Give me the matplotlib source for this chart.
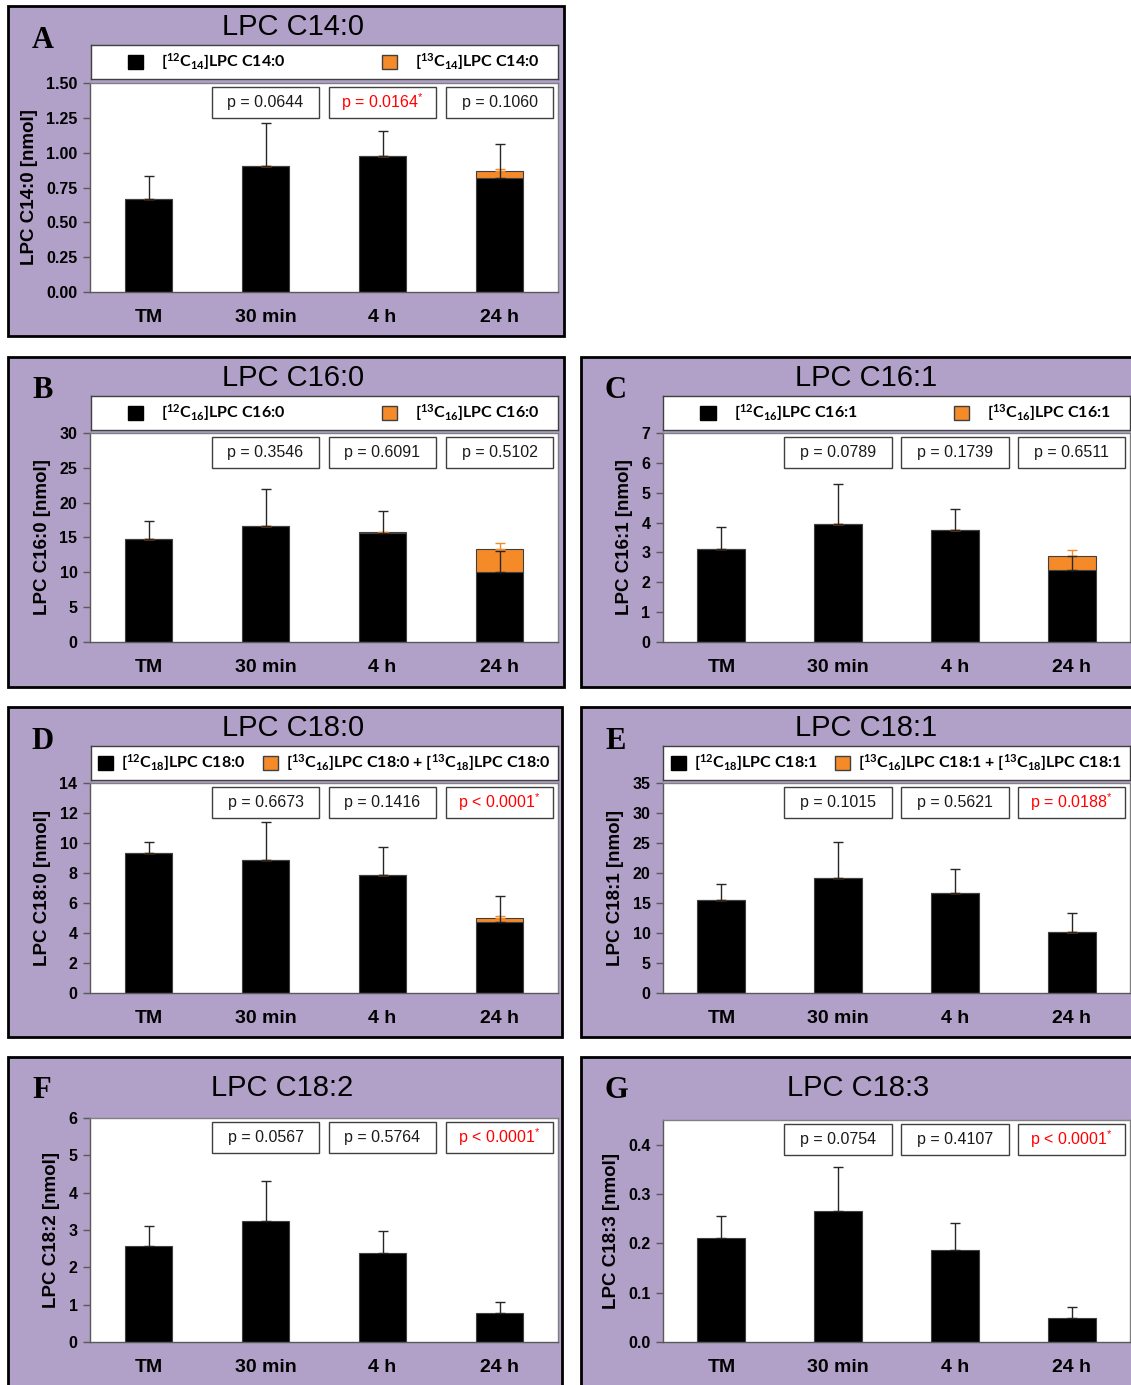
import matplotlib
matplotlib.use("Agg")
import matplotlib.pyplot as plt
from matplotlib.patches import Rectangle, Patch
from matplotlib.ticker import MultipleLocator, FormatStrFormatter
import matplotlib.transforms as mtransforms
import numpy as np

plt.rcParams['font.family'] = ['Liberation Sans', 'DejaVu Sans']
plt.rcParams['mathtext.default'] = 'regular'

# ------------------------------
# DATA (nmol, mean + SD)
# ------------------------------
TIMEPOINTS = ['TM', '30 min', '4 h', '24 h']

c14_0_12c = [0.667, 0.905, 0.975, 0.82]
c14_0_12c_sd = [0.166, 0.308, 0.181, 0.24]
c14_0_13c = [0.0, 0.0, 0.0, 0.05]
c14_0_13c_sd = [np.nan, 0.0, 0.0, 0.015]
c14_0_p = ['= 0.0644', '= 0.0164', '= 0.1060']
c14_0_sig = [False, True, False]

c16_0_12c = [14.8, 16.7, 15.7, 10.0]
c16_0_12c_sd = [2.6, 5.2, 3.1, 3.0]
c16_0_13c = [0.0, 0.0, 0.1, 3.4]
c16_0_13c_sd = [0.0, 0.0, 0.0, 0.8]
c16_0_p = ['= 0.3546', '= 0.6091', '= 0.5102']
c16_0_sig = [False, False, False]

c16_1_12c = [3.1, 3.95, 3.75, 2.42]
c16_1_12c_sd = [0.75, 1.35, 0.7, 0.45]
c16_1_13c = [0.0, 0.0, 0.0, 0.45]
c16_1_13c_sd = [np.nan, 0.0, 0.0, 0.2]
c16_1_p = ['= 0.0789', '= 0.1739', '= 0.6511']
c16_1_sig = [False, False, False]

c18_0_12c = [9.35, 8.9, 7.85, 4.72]
c18_0_12c_sd = [0.7, 2.5, 1.9, 1.75]
c18_0_13c = [0.0, 0.0, 0.0, 0.28]
c18_0_13c_sd = [np.nan, np.nan, 0.0, 0.12]
c18_0_p = ['= 0.6673', '= 0.1416', '< 0.0001']
c18_0_sig = [False, False, True]

c18_1_12c = [15.5, 19.1, 16.7, 10.2]
c18_1_12c_sd = [2.6, 6.1, 3.9, 3.1]
c18_1_13c = [0.0, 0.0, 0.0, 0.05]
c18_1_13c_sd = [np.nan, np.nan, np.nan, 0.0]
c18_1_p = ['= 0.1015', '= 0.5621', '= 0.0188']
c18_1_sig = [False, False, True]

c18_2_12c = [2.57, 3.25, 2.38, 0.77]
c18_2_12c_sd = [0.53, 1.05, 0.6, 0.3]
c18_2_p = ['= 0.0567', '= 0.5764', '< 0.0001']
c18_2_sig = [False, False, True]

c18_3_12c = [0.21, 0.265, 0.186, 0.048]
c18_3_12c_sd = [0.046, 0.09, 0.056, 0.022]
c18_3_p = ['= 0.0754', '= 0.4107', '< 0.0001']
c18_3_sig = [False, False, True]

# ------------------------------
# STYLE / LAYOUT (pixels)
# ------------------------------
W, H = 1131, 1385
PANEL_BG = '#b1a0c7'
ORANGE = '#f58a28'
EDGE = '#404040'


def iso(mass, n):
    return '[$^{%d}$C$_{%d}$]' % (mass, n)


panels = [
    dict(letter='A', title='LPC C14:0', ylabel='LPC C14:0 [nmol]',
         c12=c14_0_12c, c12_sd=c14_0_12c_sd, c13=c14_0_13c, c13_sd=c14_0_13c_sd,
         p=c14_0_p, sig=c14_0_sig, ylim=1.5, step=0.25, fmt='%.2f',
         labels=[iso(12, 14) + 'LPC C14:0', iso(13, 14) + 'LPC C14:0'], wide=True,
         frame=(8, 6, 564, 336), legend=(91, 45, 558, 79), plot=(90, 83, 558, 292),
         title_xy=(293, 27), letter_xy=(43, 41)),
    dict(letter='B', title='LPC C16:0', ylabel='LPC C16:0 [nmol]',
         c12=c16_0_12c, c12_sd=c16_0_12c_sd, c13=c16_0_13c, c13_sd=c16_0_13c_sd,
         p=c16_0_p, sig=c16_0_sig, ylim=30, step=5, fmt='%d',
         labels=[iso(12, 16) + 'LPC C16:0', iso(13, 16) + 'LPC C16:0'], wide=True,
         frame=(8, 357, 564, 687), legend=(91, 396, 558, 430), plot=(90, 433, 558, 642),
         title_xy=(293, 378), letter_xy=(43, 391)),
    dict(letter='C', title='LPC C16:1', ylabel='LPC C16:1 [nmol]',
         c12=c16_1_12c, c12_sd=c16_1_12c_sd, c13=c16_1_13c, c13_sd=c16_1_13c_sd,
         p=c16_1_p, sig=c16_1_sig, ylim=7, step=1, fmt='%d',
         labels=[iso(12, 16) + 'LPC C16:1', iso(13, 16) + 'LPC C16:1'], wide=True,
         frame=(581, 357, 1145, 687), legend=(663, 396, 1130, 430), plot=(663, 433, 1130, 642),
         title_xy=(866, 378), letter_xy=(616, 391)),
    dict(letter='D', title='LPC C18:0', ylabel='LPC C18:0 [nmol]',
         c12=c18_0_12c, c12_sd=c18_0_12c_sd, c13=c18_0_13c, c13_sd=c18_0_13c_sd,
         p=c18_0_p, sig=c18_0_sig, ylim=14, step=2, fmt='%d',
         labels=[iso(12, 18) + 'LPC C18:0',
                 iso(13, 16) + 'LPC C18:0 + ' + iso(13, 18) + 'LPC C18:0'], wide=False,
         frame=(8, 707, 562, 1037), legend=(91, 746, 558, 780), plot=(90, 783, 558, 993),
         title_xy=(293, 728), letter_xy=(43, 742)),
    dict(letter='E', title='LPC C18:1', ylabel='LPC C18:1 [nmol]',
         c12=c18_1_12c, c12_sd=c18_1_12c_sd, c13=c18_1_13c, c13_sd=c18_1_13c_sd,
         p=c18_1_p, sig=c18_1_sig, ylim=35, step=5, fmt='%d',
         labels=[iso(12, 18) + 'LPC C18:1',
                 iso(13, 16) + 'LPC C18:1 + ' + iso(13, 18) + 'LPC C18:1'], wide=False,
         frame=(581, 707, 1145, 1037), legend=(663, 746, 1130, 780), plot=(663, 783, 1130, 993),
         title_xy=(866, 728), letter_xy=(616, 742)),
    dict(letter='F', title='LPC C18:2', ylabel='LPC C18:2 [nmol]',
         c12=c18_2_12c, c12_sd=c18_2_12c_sd, c13=None, c13_sd=None,
         p=c18_2_p, sig=c18_2_sig, ylim=6, step=1, fmt='%d',
         labels=None, wide=False,
         frame=(8, 1057, 562, 1400), legend=None, plot=(90, 1118, 558, 1342),
         title_xy=(282, 1088), letter_xy=(42, 1091)),
    dict(letter='G', title='LPC C18:3', ylabel='LPC C18:3 [nmol]',
         c12=c18_3_12c, c12_sd=c18_3_12c_sd, c13=None, c13_sd=None,
         p=c18_3_p, sig=c18_3_sig, ylim=0.45, step=0.1, fmt='%.1f',
         labels=None, wide=False,
         frame=(581, 1057, 1145, 1400), legend=None, plot=(663, 1120, 1130, 1342),
         title_xy=(858, 1088), letter_xy=(616, 1091)),
]


def px_rect(x0, y0, x1, y1):
    return [x0 / W, 1 - y1 / H, (x1 - x0) / W, (y1 - y0) / H]


def draw_panel(fig, p):
    x0, y0, x1, y1 = p['frame']
    fig.add_artist(Rectangle((x0 / W, 1 - y1 / H), (x1 - x0) / W, (y1 - y0) / H,
                             transform=fig.transFigure, facecolor=PANEL_BG,
                             edgecolor='black', lw=2, zorder=0))
    fig.text(p['title_xy'][0] / W, 1 - p['title_xy'][1] / H, p['title'],
             ha='center', va='center', fontsize=21)
    fig.text(p['letter_xy'][0] / W, 1 - p['letter_xy'][1] / H, p['letter'],
             ha='center', va='center', fontsize=22, fontweight='bold',
             family='Liberation Serif')

    ax = fig.add_axes(px_rect(*p['plot']))
    ax.set_facecolor('white')
    x = np.arange(len(TIMEPOINTS))
    c12 = np.array(p['c12'], dtype=float)
    ax.bar(x, c12, width=0.41, color='black', edgecolor=EDGE, lw=0.8, zorder=2)
    ax.errorbar(x, c12, yerr=[np.zeros_like(c12), p['c12_sd']], fmt='none',
                ecolor='#262626', elinewidth=1, capsize=3.5, capthick=1, zorder=4)
    if p['c13'] is not None:
        c13 = np.array(p['c13'], dtype=float)
        ax.bar(x, c13, bottom=c12, width=0.41, color=ORANGE, edgecolor=EDGE,
               lw=0.8, zorder=2)
        ax.errorbar(x, c12 + c13, yerr=[np.zeros_like(c13), p['c13_sd']], fmt='none',
                    ecolor=ORANGE, elinewidth=1, capsize=3.5, capthick=1, zorder=3)

    ax.set_xlim(-0.5, len(TIMEPOINTS) - 0.5)
    ax.set_ylim(0, p['ylim'])
    ax.yaxis.set_major_locator(MultipleLocator(p['step']))
    ax.yaxis.set_major_formatter(FormatStrFormatter(p['fmt']))
    ax.set_xticks(x)
    ax.set_xticklabels(TIMEPOINTS, fontsize=14, fontweight='bold')
    ax.tick_params(axis='x', length=0, pad=12)
    ax.tick_params(axis='y', length=5, width=1, color='#595959', pad=4,
                   labelsize=11.5)
    for lab in ax.get_yticklabels():
        lab.set_fontweight('bold')
    for sp in ax.spines.values():
        sp.set_color('#808080')
        sp.set_linewidth(1)
    ax.spines['left'].set_color('#595959')
    ax.spines['bottom'].set_color('#595959')
    ax.set_ylabel(p['ylabel'], fontsize=13.5, fontweight='bold', labelpad=6)

    # p-value boxes over 30 min, 4 h and 24 h
    plot_h = p['plot'][3] - p['plot'][1]
    top = 1 - 4 / plot_h
    bh = 31 / plot_h
    trans = mtransforms.blended_transform_factory(ax.transData, ax.transAxes)
    for i, (txt, sig) in enumerate(zip(p['p'], p['sig'])):
        xc = i + 1
        ax.add_patch(Rectangle((xc - 0.46, top - bh), 0.92, bh, transform=trans,
                               facecolor='white', edgecolor=EDGE, lw=1, zorder=5))
        label = 'p ' + txt + ('$^{*}$' if sig else '')
        ax.text(xc, top - bh / 2, label, transform=trans, ha='center', va='center',
                fontsize=11.5, color='#ff0000' if sig else '#1a1a1a', zorder=6)

    if p['legend'] is not None:
        lax = fig.add_axes(px_rect(*p['legend']))
        lax.set_xticks([])
        lax.set_yticks([])
        for sp in lax.spines.values():
            sp.set_color(EDGE)
            sp.set_linewidth(1)
        handles = [Patch(facecolor='black', edgecolor='black'),
                   Patch(facecolor=ORANGE, edgecolor=EDGE)]
        if p['wide']:
            pad, colsp, anchor = 1.15, 6.0, (0.52, 0.5)
        else:
            pad, colsp, anchor = 0.5, 1.1, (0.5, 0.5)
        lax.legend(handles, p['labels'], loc='center', bbox_to_anchor=anchor,
                   ncol=2, frameon=False,
                   prop={'family': 'Lato', 'weight': 'bold', 'size': 11.5},
                   handlelength=0.95, handleheight=0.95, handletextpad=pad,
                   columnspacing=colsp, borderpad=0, borderaxespad=0)


fig = plt.figure(figsize=(W / 100, H / 100), dpi=100)
fig.patch.set_facecolor('white')
for panel in panels:
    draw_panel(fig, panel)

fig.savefig('out.png', dpi=100)
